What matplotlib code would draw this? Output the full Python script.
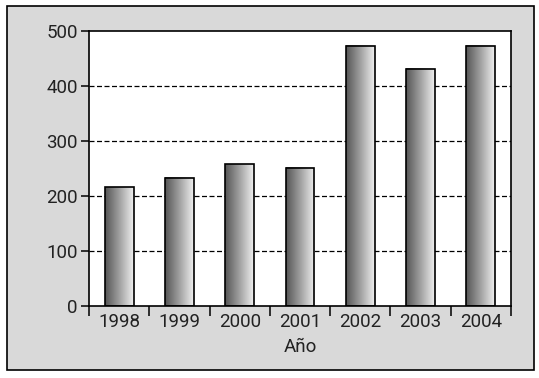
import matplotlib
matplotlib.use("Agg")
import matplotlib.pyplot as plt
import numpy as np
from matplotlib.patches import Rectangle
from matplotlib.colors import LinearSegmentedColormap

years = ["1998", "1999", "2000", "2001", "2002", "2003", "2004"]
values = [216, 233, 258, 251, 473, 431, 473]
yticks = [0, 100, 200, 300, 400, 500]
xlabel = "Año"

plt.rcParams['font.family'] = ['Roboto', 'DejaVu Sans']

W, H = 539, 378
fig = plt.figure(figsize=(W/100, H/100), dpi=100)
fig.patch.set_facecolor("white")
panel = Rectangle((7/W, 1-370/H), (534-7)/W, (370-6)/H, transform=fig.transFigure,
                  facecolor="#d9d9d9", edgecolor="black", linewidth=1.2, zorder=-10)
fig.patches.append(panel)

ax = fig.add_axes([89/W, 1-306/H, (511-89)/W, (306-31)/H])
ax.set_zorder(5)
ax.set_facecolor("white")

for v in yticks[1:-1]:
    ax.axhline(v, color="black", linestyle=(0, (4, 2)), linewidth=0.9, zorder=1)

grad = np.linspace(0, 1, 256).reshape(1, -1)
cmap = LinearSegmentedColormap.from_list("g", ["#555555", "#a0a0a0", "#f0f0f0"])
bw = 0.48
for i, v in enumerate(values):
    x0 = i + 0.5 - bw/2
    ax.imshow(grad, extent=[x0, x0+bw, 0, v], aspect="auto", cmap=cmap, zorder=2,
              interpolation="bilinear")
    ax.add_patch(Rectangle((x0, 0), bw, v, facecolor="none", edgecolor="black",
                           linewidth=1.2, zorder=3))
ax.set_xlim(0, len(years))
ax.set_ylim(0, 500)

ax.set_yticks(yticks)
ax.set_yticklabels([str(t) for t in yticks])
ax.set_xticks(np.arange(len(years)+1))
ax.set_xticklabels([])
ax.set_xticks(np.arange(len(years)) + 0.5, minor=True)
ax.set_xticklabels(years, minor=True)
ax.tick_params(axis="x", which="major", direction="out", length=7, width=1.1)
ax.tick_params(axis="x", which="minor", length=0, pad=5, labelsize=13.5, labelcolor="#222222")
ax.tick_params(axis="y", direction="out", length=6, width=1.1, labelsize=13.5, pad=2,
               labelcolor="#222222")
for s in ax.spines.values():
    s.set_linewidth(1.2)
ax.set_xlabel(xlabel, fontsize=13.5, labelpad=5, color="#222222")

fig.savefig("out.png", dpi=100)
